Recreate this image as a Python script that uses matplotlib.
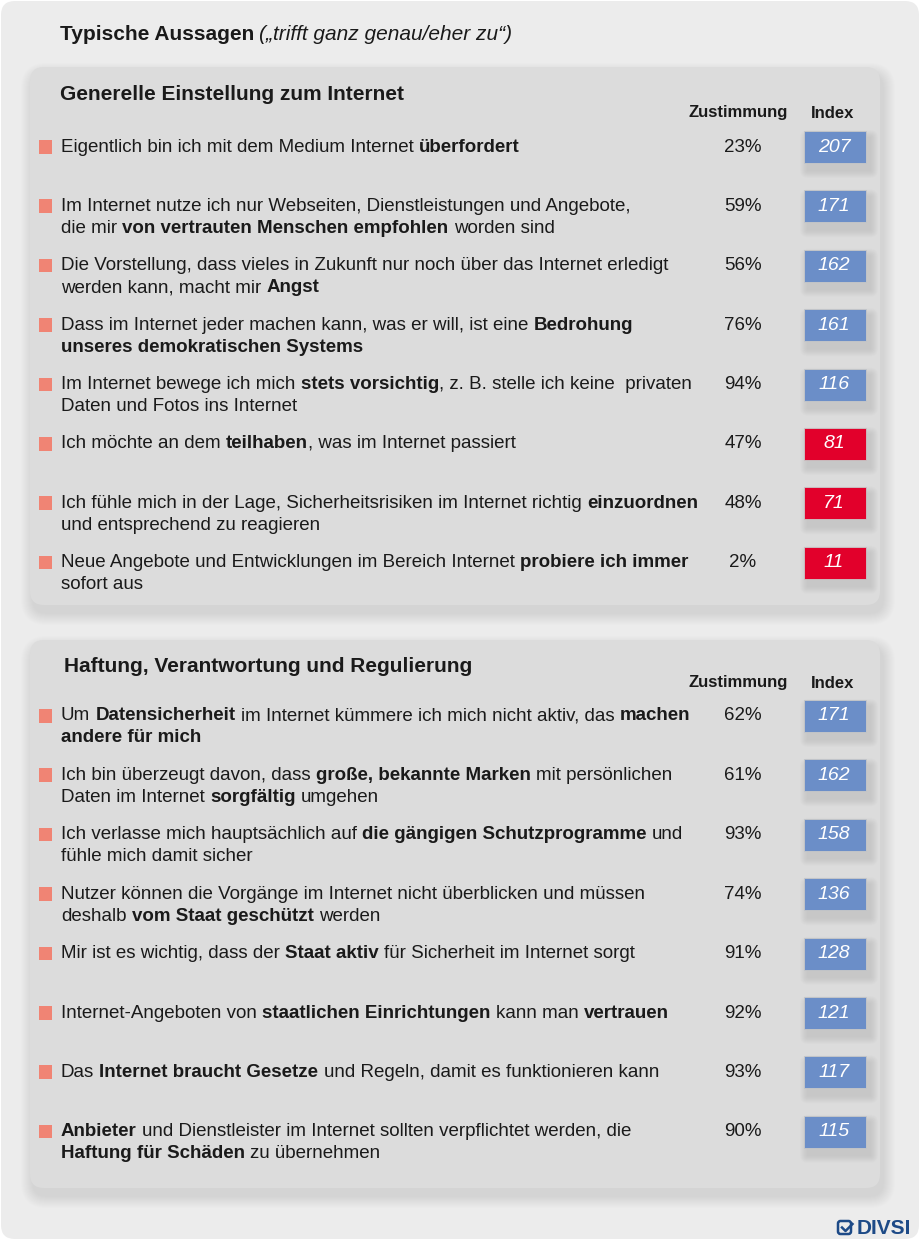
import matplotlib.pyplot as plt
from matplotlib.patches import FancyBboxPatch, Rectangle

plt.rcParams['font.family'] = ['Liberation Sans', 'DejaVu Sans']

# --- data -----------------------------------------------------------------
title_main = 'Typische Aussagen'
title_note = '(„trifft ganz genau/eher zu“)'

section1 = 'Generelle Einstellung zum Internet'
statements1 = [
    'Eigentlich bin ich mit dem Medium Internet **überfordert**',
    'Im Internet nutze ich nur Webseiten, Dienstleistungen und Angebote,\n'
    'die mir **von vertrauten Menschen empfohlen** worden sind',
    'Die Vorstellung, dass vieles in Zukunft nur noch über das Internet erledigt\n'
    'werden kann, macht mir **Angst**',
    'Dass im Internet jeder machen kann, was er will, ist eine **Bedrohung\n'
    'unseres demokratischen Systems**',
    'Im Internet bewege ich mich **stets vorsichtig**, z. B. stelle ich keine  privaten\n'
    'Daten und Fotos ins Internet',
    'Ich möchte an dem **teilhaben**, was im Internet passiert',
    'Ich fühle mich in der Lage, Sicherheitsrisiken im Internet richtig **einzuordnen**\n'
    'und entsprechend zu reagieren',
    'Neue Angebote und Entwicklungen im Bereich Internet **probiere ich immer**\n'
    'sofort aus',
]
zustimmung1 = [23, 59, 56, 76, 94, 47, 48, 2]
index1 = [207, 171, 162, 161, 116, 81, 71, 11]

section2 = 'Haftung, Verantwortung und Regulierung'
statements2 = [
    'Um **Datensicherheit** im Internet kümmere ich mich nicht aktiv, das **machen\n'
    'andere für mich**',
    'Ich bin überzeugt davon, dass **große, bekannte Marken** mit persönlichen\n'
    'Daten im Internet **sorgfältig** umgehen',
    'Ich verlasse mich hauptsächlich auf **die gängigen Schutzprogramme** und\n'
    'fühle mich damit sicher',
    'Nutzer können die Vorgänge im Internet nicht überblicken und müssen\n'
    'deshalb **vom Staat geschützt** werden',
    'Mir ist es wichtig, dass der **Staat aktiv** für Sicherheit im Internet sorgt',
    'Internet-Angeboten von **staatlichen Einrichtungen** kann man **vertrauen**',
    'Das **Internet braucht Gesetze** und Regeln, damit es funktionieren kann',
    '**Anbieter** und Dienstleister im Internet sollten verpflichtet werden, die\n'
    '**Haftung für Schäden** zu übernehmen',
]
zustimmung2 = [62, 61, 93, 74, 91, 92, 93, 90]
index2 = [171, 162, 158, 136, 128, 121, 117, 115]

# --- style ----------------------------------------------------------------
BG = '#ececec'
PANEL = '#dcdcdc'
TXT = '#1a1a1a'
BULLET = '#f08474'
BLUE = '#6b8ec8'
RED = '#e2002b'
FS = 13.5

fig = plt.figure(figsize=(9.2, 12.4), dpi=100)
ax = fig.add_axes([0, 0, 1, 1])
ax.set_xlim(0, 920)
ax.set_ylim(1240, 0)
ax.axis('off')
fig.canvas.draw()
renderer = fig.canvas.get_renderer()

ax.add_patch(FancyBboxPatch((1, 1), 918, 1238, boxstyle='round,pad=0,rounding_size=14',
                            fc=BG, ec='none', zorder=0))


def panel(x0, y0, x1, y1):
    # soft shadow, built from stacked translucent boxes
    for k in range(12):
        g = 12 - k
        ax.add_patch(FancyBboxPatch((x0 - g + 3, y0 - g + 8), x1 - x0 + 2 * g, y1 - y0 + 2 * g,
                                    boxstyle=f'round,pad=0,rounding_size={14 + g}',
                                    fc='#909090', ec='none', alpha=0.016, zorder=1))
    ax.add_patch(FancyBboxPatch((x0, y0), x1 - x0, y1 - y0,
                                boxstyle='round,pad=0,rounding_size=14',
                                fc=PANEL, ec='none', zorder=2))


def parse(s):
    # split into lines of (text, bold) runs
    lines = [[]]
    bold = False
    for k, part in enumerate(s.split('**')):
        if k > 0:
            bold = not bold
        for j, piece in enumerate(part.split('\n')):
            if j > 0:
                lines.append([])
            if piece:
                lines[-1].append((piece, bold))
    return lines


space_w = {}


def spacew(weight):
    if weight not in space_w:
        t1 = ax.text(0, 0, 'a a', fontsize=FS, fontweight=weight)
        t2 = ax.text(0, 0, 'aa', fontsize=FS, fontweight=weight)
        space_w[weight] = (t1.get_window_extent(renderer).width
                           - t2.get_window_extent(renderer).width)
        t1.remove()
        t2.remove()
    return space_w[weight]


def rich_line(x, y, runs):
    for txt, bold in runs:
        w = 'bold' if bold else 'normal'
        lead = len(txt) - len(txt.lstrip(' '))
        trail = len(txt) - len(txt.rstrip(' '))
        core = txt.strip(' ')
        x += lead * spacew(w)
        if core:
            t = ax.text(x, y, core, fontsize=FS, fontweight=w, color=TXT,
                        va='center', ha='left', zorder=5)
            x += t.get_window_extent(renderer).width
        x += trail * spacew(w)


def section(title, tx, ty, hy, first_y, statements, zust, idx):
    ax.text(tx, ty, title, fontsize=15, fontweight='bold', color=TXT,
            va='center', ha='left', zorder=5)
    ax.text(738, hy, 'Zustimmung', fontsize=12, fontweight='bold', color=TXT,
            va='center', ha='center', zorder=5)
    ax.text(833, hy, 'Index', fontsize=12, fontweight='bold', color=TXT,
            va='center', ha='center', zorder=5)
    for i, (s, z, v) in enumerate(zip(statements, zust, idx)):
        y = first_y + i * 59.4
        ax.add_patch(Rectangle((39, y - 7), 13.5, 13.5, fc=BULLET, ec='none', zorder=5))
        for j, runs in enumerate(parse(s)):
            rich_line(61, y + j * 22, runs)
        ax.text(743, y, f'{z}%', fontsize=FS, color=TXT, va='center', ha='center', zorder=5)
        col = BLUE if v >= 100 else RED
        for k in range(8):
            g = 8 - k
            ax.add_patch(FancyBboxPatch((804 - g + 4, y - 16 - g + 7), 62 + 2 * g, 32 + 2 * g,
                                        boxstyle=f'round,pad=0,rounding_size={g}',
                                        fc='#7a7a7a', ec='none', alpha=0.022, zorder=3))
        ax.add_patch(Rectangle((804, y - 16), 62, 32, fc=col, ec='#c8c8c8',
                               lw=0.6, zorder=4))
        ax.text(834, y, str(v), fontsize=FS + 0.5, style='italic', color='white',
                va='center', ha='center', zorder=5)


tm = ax.text(60, 35, title_main, fontsize=15, fontweight='bold', color=TXT,
             va='center', ha='left', zorder=5)
ax.text(60 + tm.get_window_extent(renderer).width + 5, 35, title_note, fontsize=15,
        style='italic', color=TXT, va='center', ha='left', zorder=5)

panel(30, 67, 880, 605)
section(section1, 60, 94, 113, 147, statements1, zustimmung1, index1)

panel(30, 640, 880, 1188)
section(section2, 64, 666, 683, 716, statements2, zustimmung2, index2)

# logo
LOGO = '#1d4a87'
ax.add_patch(FancyBboxPatch((838, 1221), 13, 13, boxstyle='round,pad=0,rounding_size=2.5',
                            fc='none', ec=LOGO, lw=1.8, zorder=5))
ax.plot([842, 845.5, 852.5], [1227.5, 1231, 1224], color=LOGO, lw=1.8, zorder=6)
ax.text(857, 1228, 'DIVSI', fontsize=15, fontweight='bold', color=LOGO,
        va='center', ha='left', zorder=5)

fig.savefig('out.png', dpi=100, facecolor='white')
